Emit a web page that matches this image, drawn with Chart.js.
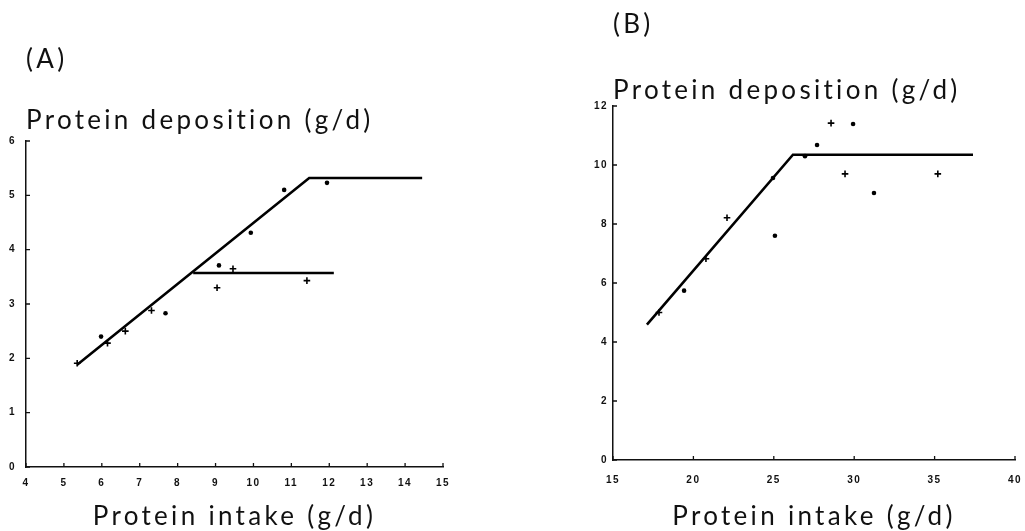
<!DOCTYPE html>
<html>
<head>
<meta charset="utf-8">
<script src="https://cdn.jsdelivr.net/npm/chart.js@4.4.1/dist/chart.umd.min.js"></script>
<style>
  html, body { margin: 0; padding: 0; background: #fff; }
  #wrap { position: relative; width: 1025px; height: 531px; overflow: hidden; }
  .panel { position: absolute; top: 0; height: 531px; }
  #pa { left: 0; width: 510px; }
  #pb { left: 505px; width: 535px; }
</style>
</head>
<body>
<div id="wrap">
  <div class="panel" id="pa"><canvas id="ca" width="510" height="531"></canvas></div>
  <div class="panel" id="pb"><canvas id="cb" width="535" height="531"></canvas></div>
</div>
<script>
// ---- Panel A: protein intake vs protein deposition ----
const ticksAX = [4, 5, 6, 7, 8, 9, 10, 11, 12, 13, 14, 15];
const ticksAY = [0, 1, 2, 3, 4, 5, 6];

const fitA1X = [5.35, 11.47, 14.45];
const fitA1Y = [1.88, 5.32, 5.32];
const fitA2X = [8.41, 12.12];
const fitA2Y = [3.57, 3.57];

const dotsAX = [5.98, 7.68, 9.09, 9.93, 10.81, 11.94];
const dotsAY = [2.40, 2.83, 3.71, 4.31, 5.10, 5.23];
const plusAX = [5.35, 6.15, 6.62, 7.31, 9.04, 9.46, 11.41];
const plusAY = [1.91, 2.28, 2.50, 2.88, 3.30, 3.65, 3.43];

// ---- Panel B ----
const ticksBX = [15, 20, 25, 30, 35, 40];
const ticksBY = [0, 2, 4, 6, 8, 10, 12];

const fitBX = [17.11, 26.19, 37.39];
const fitBY = [4.59, 10.35, 10.35];

const dotsBX = [19.42, 24.95, 25.07, 26.94, 27.69, 29.93, 31.23];
const dotsBY = [5.74, 9.56, 7.60, 10.30, 10.68, 11.39, 9.05];
const plusBX = [17.86, 20.78, 22.09, 28.56, 29.43, 35.20];
const plusBY = [5.00, 6.82, 8.21, 11.42, 9.70, 9.70];

const pts = (xs, ys) => xs.map((x, i) => ({ x, y: ys[i] }));

const INK = '#111';
const TITLE_FONT = { family: "'Lato', 'DejaVu Sans', sans-serif", size: 26, weight: 'normal', lineHeight: 1 };
const TICK_FONT = { family: "'Liberation Sans', Arial, sans-serif", size: 10, weight: 'bold' };

// Wide letter spacing for the titles, tighter for the tick numbers,
// and short tick marks that point into the plot
const inwardTicks = {
  id: 'inwardTicks',
  beforeDraw(chart) {
    chart.ctx.letterSpacing = '3.3px';
  },
  beforeDatasetsDraw(chart) {
    chart.ctx.letterSpacing = '1.5px';
  },
  afterDatasetsDraw(chart) {
    const { ctx, chartArea } = chart;
    const xs = chart.scales.x, ys = chart.scales.y;
    ctx.save();
    ctx.strokeStyle = INK;
    ctx.lineWidth = 1.3;
    ctx.beginPath();
    xs.ticks.forEach(t => {
      const px = xs.getPixelForValue(t.value);
      ctx.moveTo(px, chartArea.bottom);
      ctx.lineTo(px, chartArea.bottom - 4);
    });
    ys.ticks.forEach(t => {
      const py = ys.getPixelForValue(t.value);
      ctx.moveTo(chartArea.left, py);
      ctx.lineTo(chartArea.left + 4, py);
    });
    ctx.stroke();
    ctx.restore();
  }
};

function fitLine(data) {
  return { data, showLine: true, borderColor: '#000', borderWidth: 2.6, pointRadius: 0, tension: 0, fill: false };
}
function dots(data) {
  return { data, showLine: false, pointStyle: 'circle', pointRadius: 2.3, backgroundColor: '#000', borderColor: '#000', borderWidth: 0 };
}
function pluses(data) {
  return { data, showLine: false, pointStyle: 'cross', pointRadius: 3.3, borderColor: '#000', borderWidth: 1.6 };
}

function makePanel(canvasId, cfg) {
  return new Chart(document.getElementById(canvasId), {
    type: 'scatter',
    data: { datasets: cfg.datasets },
    plugins: [inwardTicks],
    options: {
      responsive: false,
      animation: false,
      events: [],
      layout: { padding: { top: 0, left: 0, right: cfg.padRight, bottom: 0 } },
      plugins: {
        legend: { display: false },
        tooltip: { enabled: false },
        title: {
          display: true, text: cfg.letter, align: 'start', fullSize: false, color: INK,
          font: TITLE_FONT, padding: { top: cfg.letterTop, bottom: 0 }
        },
        subtitle: {
          display: true, text: 'Protein deposition (g/d)', align: 'start', fullSize: false, color: INK,
          font: TITLE_FONT, padding: { top: cfg.subTop, bottom: cfg.subBottom }
        }
      },
      scales: {
        x: {
          type: 'linear', min: cfg.xTicks[0], max: cfg.xTicks[cfg.xTicks.length - 1],
          afterBuildTicks: s => { s.ticks = cfg.xTicks.map(v => ({ value: v })); },
          afterFit: s => { s.height = cfg.xHeight; },
          grid: { display: false, drawTicks: false },
          border: { display: true, color: INK, width: 1.5 },
          ticks: { z: 1, color: INK, font: TICK_FONT, padding: cfg.xPad, maxRotation: 0, autoSkip: false },
          title: { display: true, text: 'Protein intake (g/d)', color: INK, font: TITLE_FONT, padding: { top: 0, bottom: 1 } }
        },
        y: {
          type: 'linear', min: cfg.yTicks[0], max: cfg.yTicks[cfg.yTicks.length - 1],
          afterBuildTicks: s => { s.ticks = cfg.yTicks.map(v => ({ value: v })); },
          afterFit: s => { s.width = cfg.yWidth; },
          grid: { display: false, drawTicks: false },
          border: { display: true, color: INK, width: 1.5 },
          ticks: { z: 1, color: INK, font: TICK_FONT, padding: cfg.yPad, autoSkip: false }
        }
      }
    }
  });
}

makePanel('ca', {
  letter: '(A)', letterTop: 47, subTop: 35, subBottom: 7,
  padRight: 67, yWidth: 26, xHeight: 64, xPad: 10, yPad: 10,
  xTicks: ticksAX, yTicks: ticksAY,
  datasets: [
    fitLine(pts(fitA1X, fitA1Y)),
    fitLine(pts(fitA2X, fitA2Y)),
    dots(pts(dotsAX, dotsAY)),
    pluses(pts(plusAX, plusAY))
  ]
});

makePanel('cb', {
  letter: '(B)', letterTop: 12, subTop: 40, subBottom: 2,
  padRight: 25, yWidth: 108, xHeight: 71, xPad: 14, yPad: 5,
  xTicks: ticksBX, yTicks: ticksBY,
  datasets: [
    fitLine(pts(fitBX, fitBY)),
    dots(pts(dotsBX, dotsBY)),
    pluses(pts(plusBX, plusBY))
  ]
});
</script>
</body>
</html>
